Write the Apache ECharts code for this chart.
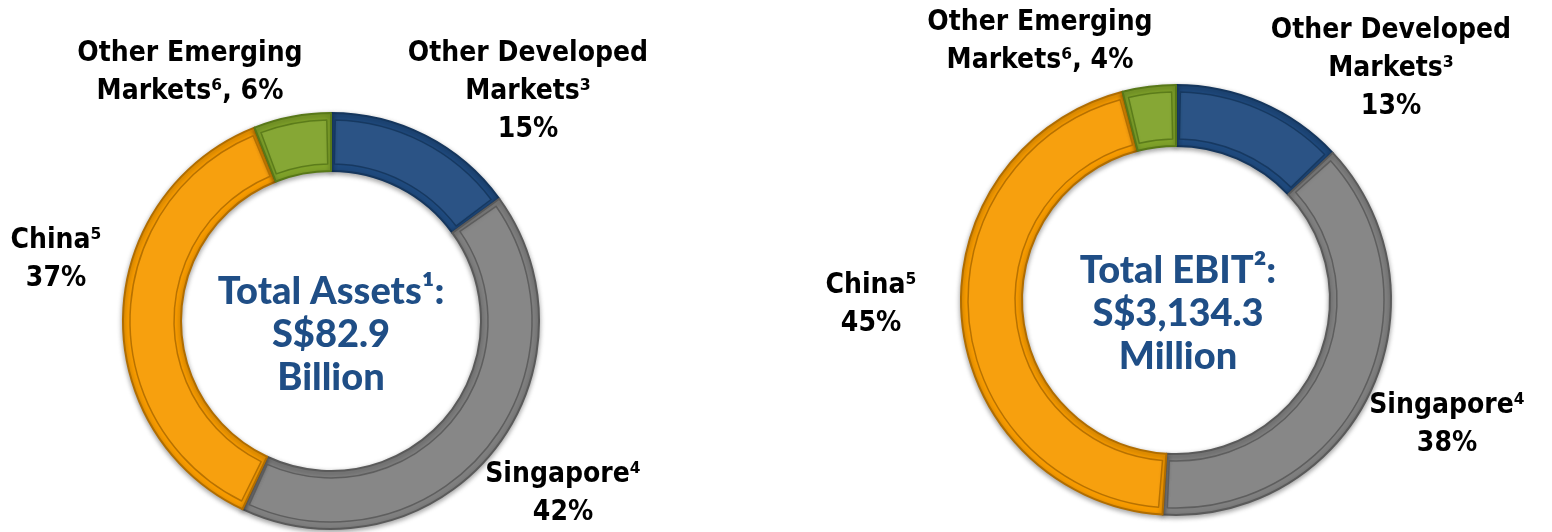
<!DOCTYPE html>
<html>
<head>
<meta charset="utf-8">
<script src="https://cdn.jsdelivr.net/npm/echarts@6/dist/echarts.min.js"></script>
<style>
  html, body { margin: 0; padding: 0; background: #ffffff; }
  #chart { width: 1552px; height: 532px; }
</style>
</head>
<body>
<div id="chart"></div>
<script>
// Regional split (clockwise from 12 o'clock)
const regions = ['Other Developed\nMarkets', 'Singapore', 'China', 'Other Emerging\nMarkets'];
const footnotes = [3, 4, 5, 6];
const valueJoins = ['\n', '\n', '\n', ', '];
const assetShares = [15, 42, 37, 6];
const ebitShares = [13, 38, 45, 4];
const assetsCaption = ['Total Assets', 1, 'S$82.9', 'Billion'];
const ebitCaption = ['Total EBIT', 2, 'S$3,134.3', 'Million'];

const sliceColors = ['#1F4A7E', '#808080', '#F79B00', '#7FA22A'];
const sliceEdges = ['#15365d', '#5a5a5a', '#b06d00', '#587818'];

const labelFont = "'DejaVu Sans Condensed', 'Liberation Sans Narrow', sans-serif";
const captionFont = "Lato, 'Liberation Sans', sans-serif";

const SUP = { 0: '⁰', 1: '¹', 2: '²', 3: '³', 4: '⁴', 5: '⁵', 6: '⁶', 7: '⁷', 8: '⁸', 9: '⁹' };
const sup = n => String(n).split('').map(d => SUP[d]).join('');

const labelStyle = { fontFamily: labelFont, fontWeight: 'bold', fontSize: 28, lineHeight: 38, color: '#000', align: 'center' };

function sliceLabel(p) {
  const i = p.dataIndex;
  let txt = regions[i] + sup(footnotes[i]);
  txt += valueJoins[i] + p.value + '%';
  return txt;
}

// label anchor points (centre-x, top-y) for each donut
const assetLabelSpots = [[528, 35], [563, 456], [56, 222], [190, 35]];
const ebitLabelSpots = [[1391, 12], [1447, 387], [871, 267], [1040, 4]];

function donut(values, center, radius, spots) {
  return [{
    type: 'pie',
    center: center,
    radius: radius,
    startAngle: 90,
    clockwise: true,
    silent: true,
    avoidLabelOverlap: false,
    label: Object.assign({ show: true, position: 'outside', formatter: sliceLabel }, labelStyle),
    labelLine: { show: false },
    labelLayout: function (params) {
      const s = spots[params.dataIndex];
      return { x: s[0], y: s[1], align: 'center', verticalAlign: 'top' };
    },
    itemStyle: { shadowBlur: 5, shadowColor: 'rgba(0,0,0,0.35)', shadowOffsetY: 2 },
    data: regions.map((n, i) => ({
      name: n, value: values[i],
      itemStyle: { color: sliceColors[i], borderColor: sliceEdges[i], borderWidth: 2 }
    }))
  }, {
    // inner bevel outline on each slice
    type: 'pie',
    center: center,
    radius: [radius[0] + 7, radius[1] - 7],
    startAngle: 90,
    clockwise: true,
    silent: true,
    padAngle: 2.4,
    label: { show: false },
    labelLine: { show: false },
    data: regions.map((n, i) => ({
      name: n, value: values[i],
      itemStyle: { color: 'rgba(255,255,255,0.06)', borderColor: sliceEdges[i], borderWidth: 1.5, opacity: 0.9 }
    }))
  }];
}

function caption(parts, x, y) {
  return {
    type: 'text',
    x: x, y: y,
    silent: true,
    style: {
      text: parts[0] + sup(parts[1]) + ':\n' + parts[2] + '\n' + parts[3],
      align: 'center',
      verticalAlign: 'middle',
      fontFamily: captionFont,
      fontWeight: 900,
      fontSize: 38,
      lineHeight: 43,
      fill: '#1F4E86'
    }
  };
}

const chart = echarts.init(document.getElementById('chart'), null, { renderer: 'canvas' });
chart.setOption({
  backgroundColor: '#ffffff',
  animation: false,
  series: [].concat(
    donut(assetShares, [331, 321], [150, 208], assetLabelSpots),
    donut(ebitShares, [1176, 300], [154, 215], ebitLabelSpots)
  ),
  graphic: [
    caption(assetsCaption, 331, 335),
    caption(ebitCaption, 1178, 314)
  ]
});
</script>
</body>
</html>
